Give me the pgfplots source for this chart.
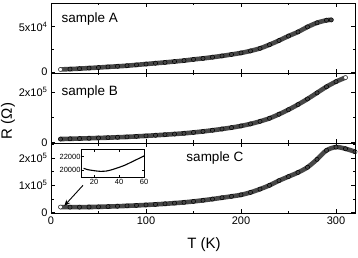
\documentclass[border=0pt]{standalone}
\usepackage{fontspec}
\setmainfont{Liberation Sans}
\usepackage{pgfplots}
\pgfplotsset{compat=1.18}
\usetikzlibrary{arrows.meta}
\begin{document}
\begin{tikzpicture}
\pgfplotsset{
 panel/.style={
  width=304pt, height=70pt, scale only axis, anchor=south west,
  xmin=0, xmax=320,
  xtick={0,100,200,300}, minor xtick={50,150,250},
  tick align=inside, xtick pos=both, ytick pos=both,
  major tick length=4pt, minor tick length=2.5pt,
  tick style={black, line width=0.6pt},
  axis line style={line width=0.7pt},
  ticklabel style={font=\fontsize{11}{12}\selectfont},
  scaled ticks=false,
  /pgf/number format/assume math mode=true,
 },
 band/.style={black!72, line width=4.6pt, smooth, line cap=round, mark=none},
 circ/.style={only marks, mark=o, mark size=2.1pt, black, mark options={line width=0.5pt}},
 first/.style={only marks, mark=*, mark size=2pt, mark options={fill=white, draw=black!80, line width=0.5pt}},
}
\path[use as bounding box] (0pt,0pt) rectangle (358pt,257pt);

% ---------- sample A ----------
\begin{axis}[panel, at={(51pt,184pt)},
  ymin=-1000, ymax=75700, ytick={0,50000}, yticklabels={0,5x10\textsuperscript{4}},
  minor ytick={25000}, xticklabels={}]
\addplot[band] table {
T R
10 2900
20 3300
30 3800
40 4400
50 5000
60 5700
70 6300
80 7000
90 7900
100 8800
110 9700
120 10600
130 11600
140 12600
150 13900
160 15000
170 16300
180 17700
190 19300
200 21000
210 23200
220 26000
230 30000
240 34600
250 39500
260 44000
270 49500
280 54000
290 56800
295 57200
};
\addplot[circ] table {
T R
20 3300
30 3800
40 4400
50 5000
60 5700
70 6300
80 7000
90 7900
100 8800
110 9700
120 10600
130 11600
140 12600
150 13900
160 15000
170 16300
180 17700
190 19300
200 21000
210 23200
220 26000
230 30000
240 34600
250 39500
260 44000
270 49500
280 54000
290 56800
295 57200
};
\addplot[first] coordinates {(10,2900)};
\end{axis}

% ---------- sample B ----------
\begin{axis}[panel, at={(51pt,114pt)},
  ymin=-1000, ymax=274000, ytick={0,200000}, yticklabels={0,2x10\textsuperscript{5}},
  minor ytick={100000}, xticklabels={}]
\addplot[band] table {
T R
10 14500
20 15500
30 16500
40 17600
50 18800
60 20000
70 21400
80 23000
90 25000
100 27000
110 29300
120 31700
130 34200
140 37000
150 40500
160 44500
170 49000
180 54000
190 59500
200 66000
210 74000
220 84000
230 96000
240 112000
250 130000
260 150000
270 172000
280 196000
290 220000
300 240000
310 256000
};
\addplot[circ] table {
T R
10 14500
20 15500
30 16500
40 17600
50 18800
60 20000
70 21400
80 23000
90 25000
100 27000
110 29300
120 31700
130 34200
140 37000
150 40500
160 44500
170 49000
180 54000
190 59500
200 66000
210 74000
220 84000
230 96000
240 112000
250 130000
260 150000
270 172000
280 196000
290 220000
300 240000
};
\addplot[first] coordinates {(310,256000)};
\end{axis}

% ---------- sample C ----------
\begin{axis}[panel, at={(51pt,44pt)},
  ymin=-1500, ymax=255000, ytick={0,100000,200000},
  yticklabels={0,1x10\textsuperscript{5},2x10\textsuperscript{5}},
  minor ytick={50000,150000,250000}]
\addplot[band] table {
T R
10 20300
20 19900
30 19900
40 20400
50 21100
60 22100
70 23300
80 24700
90 26300
100 28000
110 30000
120 32200
130 34700
140 37500
150 41000
160 45000
170 49500
180 54500
190 59500
200 65000
210 74000
220 86000
230 100000
240 117000
250 132000
260 147000
270 166000
280 195000
290 228000
300 240000
310 234000
320 223000
};
\addplot[circ] table {
T R
20 19900
30 19900
40 20400
50 21100
60 22100
70 23300
80 24700
90 26300
100 28000
110 30000
120 32200
130 34700
140 37500
150 41000
160 45000
170 49500
180 54500
190 59500
200 65000
210 74000
220 86000
230 100000
240 117000
250 132000
260 147000
270 166000
280 195000
290 228000
300 240000
310 234000
320 223000
};
\addplot[first] coordinates {(10,20300)};
\draw[-{Stealth[length=6pt,width=5pt]}, line width=0.9pt] (axis cs:33.7,100000) -- (axis cs:14,25000);
\end{axis}

% ---------- inset ----------
\begin{axis}[at={(81.7pt,79.3pt)}, anchor=south west,
  width=62.3pt, height=28.4pt, scale only axis,
  xmin=10, xmax=60, ymin=18850, ymax=23100,
  xtick={20,40,60}, ytick={20000,22000},
  tick align=inside, major tick length=2.5pt,
  tick style={black, line width=0.5pt},
  axis line style={line width=0.6pt},
  axis background/.style={fill=white},
  ticklabel style={font=\fontsize{7.5}{8}\selectfont, inner sep=1pt},
  scaled ticks=false,
  /pgf/number format/set thousands separator={},
  /pgf/number format/assume math mode=true]
\addplot[black, line width=1.1pt, smooth, mark=none] table {
T R
11.5 20250
15 20050
20 19900
25 19800
30 19850
33.4 20000
40 20400
45 20750
50 21200
55 21650
60 22100
};
\end{axis}

\node[anchor=west, font=\fontsize{13.5}{14}\selectfont] at (58pt,238pt) {sample A};
\node[anchor=west, font=\fontsize{13.5}{14}\selectfont] at (58pt,165pt) {sample B};
\node[anchor=center, font=\fontsize{13.5}{14}\selectfont] at (215pt,99pt) {sample C};
\node[font=\fontsize{15}{16}\selectfont] at (204pt,12pt) {T (K)};
\node[rotate=90, font=\fontsize{15}{16}\selectfont] at (8pt,136pt) {R (Ω)};
\end{tikzpicture}
\end{document}
